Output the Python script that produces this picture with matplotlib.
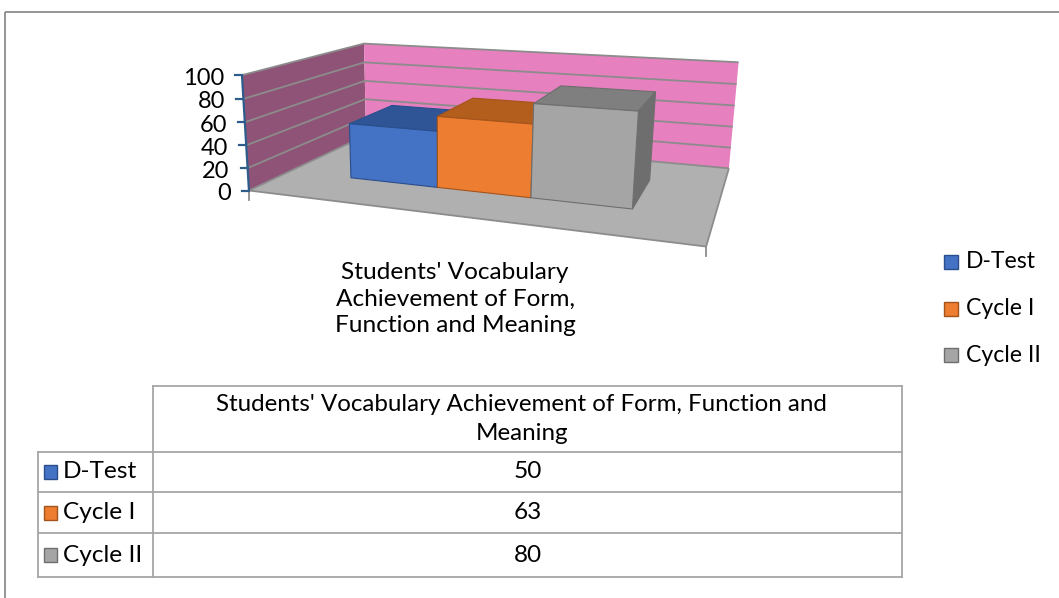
import textwrap

import numpy as np
import matplotlib
matplotlib.use("Agg")
import matplotlib.pyplot as plt
from matplotlib.patches import Polygon, Rectangle

# data
series = ["D-Test", "Cycle I", "Cycle II"]
values = [50, 63, 80]
colors = ["#4472C4", "#ED7D31", "#A5A5A5"]
top_colors = ["#2F5597", "#B45E1E", "#7F7F7F"]
side_colors = ["#2A4E8C", "#A3541A", "#6E6E6E"]
category = "Students' Vocabulary Achievement of Form, Function and Meaning"
yticks = [0, 20, 40, 60, 80, 100]
zmax = 100

W, H = 1059, 598
FONT = "Lato"
plt.rcParams["font.family"] = [FONT, "DejaVu Sans"]
FS = 17.6

# view box: where the corners of the 3D plot box land on the page (pixels)
box_world = [(0, 0, 0), (0, 0, 1), (0, 1, 1), (1, 1, 1), (1, 1, 0), (1, 0, 0), (0, 1, 0)]
box_screen = [(250, 190), (241, 75), (365, 43.3), (738.3, 62.7),
              (729.3, 167.3), (706, 247.3), (365, 136)]


def fit_camera(world, screen):
    A, b = [], []
    for (X, Y, Z), (u, v) in zip(world, screen):
        A.append([X, Y, Z, 1, 0, 0, 0, 0, -u * X, -u * Y, -u * Z])
        b.append(u)
        A.append([0, 0, 0, 0, X, Y, Z, 1, -v * X, -v * Y, -v * Z])
        b.append(v)
    p = np.linalg.lstsq(np.array(A, float), np.array(b, float), rcond=None)[0]
    return np.append(p, 1.0).reshape(3, 4)


P = fit_camera(box_world, box_screen)


def proj(X, Y, z):
    h = P @ np.array([X, Y, z / zmax, 1.0])
    return h[0] / h[2], h[1] / h[2]


def face(ax, pts, fc, ec="none", lw=0.0, z=1):
    ax.add_patch(Polygon([proj(*p) for p in pts], closed=True, facecolor=fc,
                         edgecolor=ec, linewidth=lw, zorder=z))


def line3(ax, pts, color, lw, z=2):
    xy = np.array([proj(*p) for p in pts])
    ax.plot(xy[:, 0], xy[:, 1], color=color, lw=lw, zorder=z, solid_capstyle="butt")


fig = plt.figure(figsize=(W / 100, H / 100), dpi=100)
ax = fig.add_axes([0, 0, 1, 1])
ax.set_xlim(0, W)
ax.set_ylim(H, 0)
ax.axis("off")

# outer chart border
ax.add_patch(Rectangle((5, 12), W, H, facecolor="none", edgecolor="#8C8C8C", lw=1.3, zorder=0))

# walls and floor
face(ax, [(0, 0, 0), (0, 1, 0), (0, 1, zmax), (0, 0, zmax)], "#8F5377")
face(ax, [(0, 1, 0), (1, 1, 0), (1, 1, zmax), (0, 1, zmax)], "#E680BE")
face(ax, [(0, 0, 0), (1, 0, 0), (1, 1, 0), (0, 1, 0)], "#B0B0B0")

for t in yticks:
    line3(ax, [(0, 0, t), (0, 1, t), (1, 1, t)], "#8C8C8C", 1.3)
line3(ax, [(0, 0, 0), (1, 0, 0), (1, 1, 0)], "#8C8C8C", 1.3)

# category axis end ticks
for X in (0, 1):
    x, y = proj(X, 0, 0)
    ax.plot([x, x], [y, y + 9], color="#8C8C8C", lw=1.3, zorder=2)

# value axis
line3(ax, [(0, 0, 0), (0, 0, zmax)], "#2E5D8C", 1.6, z=3)
for t in yticks:
    x, y = proj(0, 0, t)
    ax.plot([x - 7, x], [y, y], color="#2E5D8C", lw=1.6, zorder=3)
    ax.text(x - 18, y + 3, str(t), ha="right", va="center", fontsize=17, color="black")

# bars: gap width 150%, gap depth 150%
bw = 1 / (len(series) + 1.5)
xs = 0.75 * bw
y0, y1 = 0.3, 0.7
for i, v in enumerate(values):
    x0 = xs + i * bw
    x1 = x0 + bw
    ec = side_colors[i]
    face(ax, [(x0, y0, v), (x1, y0, v), (x1, y1, v), (x0, y1, v)], top_colors[i], ec, 0.8, 4)
    face(ax, [(x1, y0, 0), (x1, y1, 0), (x1, y1, v), (x1, y0, v)], side_colors[i], ec, 0.8, 4)
    face(ax, [(x0, y0, 0), (x1, y0, 0), (x1, y0, v), (x0, y0, v)], colors[i], ec, 0.8, 4)

# category label
ax.text(455, 299, "\n".join(textwrap.wrap(category, 21)), ha="center", va="center",
        fontsize=FS, linespacing=1.32)

# legend
for i, name in enumerate(series):
    yc = 262 + i * 46.5
    ax.add_patch(Rectangle((944, yc - 7), 14, 14, facecolor=colors[i],
                           edgecolor=side_colors[i], lw=1.0))
    ax.text(966, yc, name, ha="left", va="center", fontsize=16.6)

# data table
tc = "#A6A6A6"
left, col, right = 38, 153, 902
rows = [386, 452, 492, 533, 577]
ax.plot([col, right], [rows[0], rows[0]], color=tc, lw=1.3)
for r in rows[1:]:
    ax.plot([left, right], [r, r], color=tc, lw=1.3)
ax.plot([left, left], [rows[1], rows[-1]], color=tc, lw=1.3)
ax.plot([col, col], [rows[0], rows[-1]], color=tc, lw=1.3)
ax.plot([right, right], [rows[0], rows[-1]], color=tc, lw=1.3)

cx = (col + right) / 2
ax.text(cx - 6, (rows[0] + rows[1]) / 2, "\n".join(textwrap.wrap(category, 55)),
        ha="center", va="center", fontsize=17.4, linespacing=1.42)
for i, (name, v) in enumerate(zip(series, values)):
    yc = (rows[i + 1] + rows[i + 2]) / 2
    ax.add_patch(Rectangle((44, yc - 7), 13, 14, facecolor=colors[i],
                           edgecolor=side_colors[i], lw=1.0))
    ax.text(63, yc, name, ha="left", va="center", fontsize=FS)
    ax.text(cx, yc, str(v), ha="center", va="center", fontsize=FS)

fig.savefig("out.png", dpi=100)
